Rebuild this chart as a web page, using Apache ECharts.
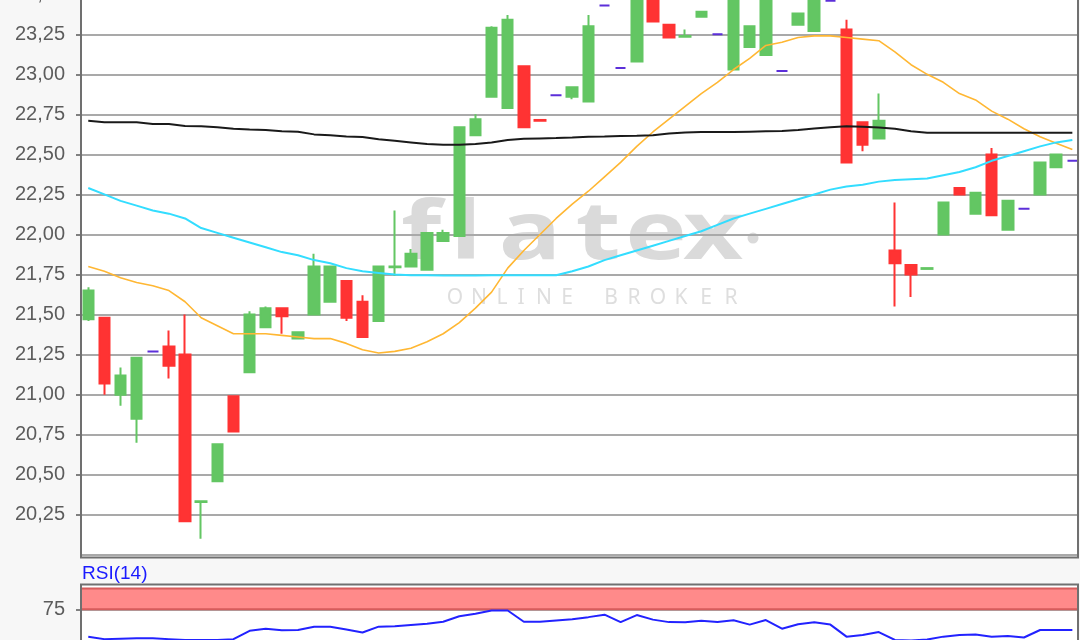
<!DOCTYPE html>
<html>
<head>
<meta charset="utf-8">
<script src="https://cdn.jsdelivr.net/npm/echarts@6/dist/echarts.min.js"></script>
<style>
html,body{margin:0;padding:0;background:#f7f7f7;}
#chart{width:1080px;height:640px;}
</style>
</head>
<body>
<div id="chart"></div>
<script>
// ---- data (62 sessions) ----
const candleOpen  = [21.47,21.48,21.00,20.85,21.27,21.30,21.25,20.33,20.46,20.99,21.14,21.42,21.54,21.35,21.50,21.58,21.71,21.58,21.46,21.795,21.80,21.78,21.96,21.99,22.62,22.86,22.79,23.05,22.715,22.87,22.86,22.83,23.43,23.04,23.08,23.52,23.31,23.235,23.36,23.25,23.03,23.17,23.12,23.02,23.31,23.27,23.46,23.28,22.70,22.60,21.90,21.81,21.785,22.00,22.29,22.13,22.50,22.03,22.16,22.25,22.42,22.46];
const candleClose = [21.65,21.07,21.12,21.23,21.27,21.18,20.21,20.335,20.69,20.77,21.50,21.54,21.49,21.39,21.80,21.80,21.48,21.36,21.80,21.80,21.88,22.01,22.01,22.67,22.72,23.29,23.34,22.67,22.71,22.87,22.92,23.30,23.43,23.04,23.56,23.33,23.23,23.24,23.39,23.25,23.55,23.30,23.52,23.02,23.38,23.50,23.46,22.45,22.56,22.71,21.82,21.75,21.79,22.20,22.25,22.26,22.12,22.21,22.16,22.45,22.50,22.46];
const candleLow   = [21.46,21.00,20.93,20.70,21.27,21.10,20.21,20.10,20.46,20.77,21.14,21.42,21.38,21.35,21.50,21.58,21.46,21.36,21.46,21.74,21.80,21.78,21.96,21.99,22.62,22.86,22.79,22.67,22.71,22.87,22.845,22.83,23.43,23.04,23.08,23.33,23.23,23.235,23.36,23.25,23.03,23.17,23.12,23.02,23.31,23.27,23.46,22.45,22.52,22.60,21.55,21.61,21.785,22.00,22.25,22.13,22.12,22.03,22.16,22.25,22.42,22.46];
const candleHigh  = [21.67,21.48,21.17,21.23,21.27,21.40,21.50,20.335,20.69,20.99,21.52,21.55,21.54,21.39,21.88,21.80,21.71,21.62,21.80,22.15,21.91,22.01,22.03,22.67,22.75,23.30,23.37,23.05,22.715,22.87,22.92,23.37,23.43,23.04,23.56,23.52,23.31,23.28,23.39,23.25,23.55,23.30,23.52,23.02,23.38,23.50,23.46,23.34,22.70,22.88,22.20,21.81,21.79,22.20,22.29,22.26,22.54,22.21,22.16,22.45,22.50,22.46];

const maOrange = [21.80,21.77,21.73,21.70,21.68,21.65,21.58,21.48,21.43,21.38,21.38,21.38,21.37,21.36,21.35,21.35,21.32,21.28,21.26,21.27,21.29,21.33,21.38,21.45,21.54,21.64,21.79,21.90,22.00,22.10,22.19,22.27,22.36,22.45,22.55,22.64,22.72,22.80,22.88,22.95,23.03,23.10,23.18,23.20,23.23,23.24,23.24,23.23,23.22,23.21,23.14,23.06,23.00,22.95,22.88,22.84,22.77,22.72,22.66,22.61,22.57,22.53];
const maCyan   = [22.29,22.25,22.21,22.18,22.15,22.13,22.10,22.04,22.01,21.98,21.95,21.92,21.89,21.87,21.84,21.82,21.79,21.77,21.76,21.75,21.745,21.745,21.744,21.744,21.744,21.745,21.745,21.745,21.745,21.745,21.77,21.80,21.84,21.87,21.90,21.93,21.96,21.99,22.02,22.06,22.10,22.13,22.16,22.19,22.22,22.25,22.28,22.30,22.31,22.33,22.34,22.345,22.35,22.37,22.39,22.42,22.46,22.49,22.52,22.55,22.575,22.59];
const maBlack  = [22.71,22.70,22.70,22.70,22.69,22.69,22.678,22.675,22.67,22.66,22.655,22.652,22.645,22.642,22.625,22.62,22.612,22.608,22.595,22.585,22.575,22.565,22.56,22.56,22.565,22.575,22.59,22.597,22.60,22.602,22.605,22.61,22.612,22.615,22.617,22.62,22.63,22.637,22.64,22.64,22.64,22.642,22.644,22.646,22.652,22.662,22.67,22.675,22.672,22.668,22.66,22.645,22.635,22.635,22.635,22.635,22.635,22.635,22.635,22.635,22.635,22.635];

const rsiValues = [42,39,39.5,40,40,39,38,38,38,39,49,51.5,49.6,50,54,54,50.5,47,54,54.5,56,57.5,60,66.5,69.5,73.5,73.5,60,60,61.5,63,65.5,68.5,59.5,68,62.5,59.5,59.3,61,59.7,61.7,56.5,62,51.6,57,59.3,56.5,42,44,47.5,38,37.5,38.5,42,44,44.5,42,42.7,41,50,50,50];

const priceRange = [20, 23.75];
const priceStep = [0.25];
const rsiRange = [0, 100];
const rsiLabels = [25, 75];
const rsiBand = [75, 100];
const rsiTitle = ['RSI(14)'];
const watermarkWord = ['f','l','a','t','e','x'];
const watermarkSub = ['O','N','L','I','N','E','B','R','O','K','E','R'];

// ---- build ----
const GREEN = '#63c663', RED = '#ff3333', DOJI = '#5c2fd9';
const n = candleOpen.length;
const xMin = -0.45, xMax = n - 1 + 0.35;
const idx = candleOpen.map((_, i) => i);
const candleData = idx.map(i => {
  const v = [i, candleOpen[i], candleClose[i], candleLow[i], candleHigh[i]];
  if (candleOpen[i] === candleClose[i]) {
    return {value: v, itemStyle: {color: DOJI, color0: DOJI, borderColor: DOJI, borderColor0: DOJI, borderColorDoji: DOJI}};
  }
  return v;
});
const pairs = arr => arr.map((v, i) => [i, v]);

const labelFont = {color: '#5c5c5c', fontSize: 20, fontFamily: '"Liberation Sans", Arial, sans-serif'};

// watermark layout (decoration only)
const wmX = [421, 466, 530, 598, 656, 713];
const subX = [455, 479, 502, 521, 544, 567, 611, 634, 658, 681, 706, 731];
const graphics = [
  {type: 'rect', z: -20, shape: {x: 81, y: 0, width: 997, height: 557}, style: {fill: '#ffffff'}},
  {type: 'rect', z: -20, shape: {x: 81, y: 585, width: 997, height: 60}, style: {fill: '#ffffff'}}
];
watermarkWord.forEach((ch, k) => graphics.push({
  type: 'text', z: -10, x: wmX[k], y: 236, scaleX: 1.3,
  style: {text: ch, fill: '#dadada', font: 'bold 80px "Noto Sans", sans-serif',
          textAlign: 'center', textVerticalAlign: 'middle', align: 'center', verticalAlign: 'middle'}
}));
graphics.push({type: 'circle', z: -10, shape: {cx: 753, cy: 238, r: 5.5}, style: {fill: '#dadada'}});
watermarkSub.forEach((ch, k) => graphics.push({
  type: 'text', z: -10, x: subX[k], y: 298,
  style: {text: ch, fill: '#dedede', font: '21px "Noto Sans", sans-serif',
          textAlign: 'center', textVerticalAlign: 'middle', align: 'center', verticalAlign: 'middle'}
}));
graphics.push(
  {type: 'polyline', z: 50, shape: {points: [[81, -5], [81, 557.5], [1078, 557.5], [1078, -5]]},
   style: {stroke: '#707070', lineWidth: 2, fill: 'none'}},
  {type: 'polyline', z: 50, shape: {points: [[81, 645], [81, 584.5], [1078, 584.5], [1078, 645]]},
   style: {stroke: '#707070', lineWidth: 2, fill: 'none'}},
  {type: 'text', z: 50, x: 82, y: 574,
   style: {text: rsiTitle[0], fill: '#1a1aff', font: '19px "Liberation Sans", Arial, sans-serif',
           textVerticalAlign: 'middle', verticalAlign: 'middle'}}
);

const chart = echarts.init(document.getElementById('chart'), null, {renderer: 'canvas'});
chart.setOption({
  backgroundColor: '#f7f7f7',
  animation: false,
  grid: [
    {left: 81, right: 2, top: -45.8, bottom: 85.2, outerBoundsMode: 'none', containLabel: false},
    {left: 81, right: 2, top: 588.5, height: 83, outerBoundsMode: 'none', containLabel: false}
  ],
  xAxis: [
    {type: 'value', gridIndex: 0, min: xMin, max: xMax, show: false},
    {type: 'value', gridIndex: 1, min: xMin, max: xMax, show: false}
  ],
  yAxis: [
    {type: 'value', gridIndex: 0, min: priceRange[0], max: priceRange[1], interval: priceStep[0],
     axisLine: {show: true, onZero: false, lineStyle: {color: '#707070', width: 2}},
     axisTick: {show: true, length: 5, lineStyle: {color: '#808080', width: 2}},
     axisLabel: Object.assign({margin: 16, showMinLabel: false,
       formatter: v => v.toFixed(2).replace('.', ',')}, labelFont),
     splitLine: {show: true, lineStyle: {color: '#a9a9a9', width: 2}}},
    {type: 'value', gridIndex: 1, min: rsiRange[0], max: rsiRange[1], interval: 25,
     axisLine: {show: true, onZero: false, lineStyle: {color: '#707070', width: 2}},
     axisTick: {show: true, length: 5, customValues: rsiLabels, lineStyle: {color: '#808080', width: 2}},
     axisLabel: Object.assign({margin: 16, customValues: rsiLabels,
       formatter: v => (rsiLabels.indexOf(v) >= 0 ? String(v) : '')}, labelFont),
     splitLine: {show: true, lineStyle: {color: '#a9a9a9', width: 2}}}
  ],
  graphic: graphics,
  series: [
    {type: 'candlestick', xAxisIndex: 0, yAxisIndex: 0, data: candleData, barWidth: 11, z: 3,
     itemStyle: {color: GREEN, color0: RED, borderColor: GREEN, borderColor0: RED, borderColorDoji: DOJI, borderWidth: 2}},
    {type: 'line', xAxisIndex: 0, yAxisIndex: 0, data: pairs(maOrange), showSymbol: false, z: 5,
     lineStyle: {color: '#ffb733', width: 1.6}},
    {type: 'line', xAxisIndex: 0, yAxisIndex: 0, data: pairs(maCyan), showSymbol: false, z: 5,
     lineStyle: {color: '#33ddff', width: 2}},
    {type: 'line', xAxisIndex: 0, yAxisIndex: 0, data: pairs(maBlack), showSymbol: false, z: 5,
     lineStyle: {color: '#1a1a1a', width: 2}},
    {type: 'line', xAxisIndex: 1, yAxisIndex: 1, data: pairs(rsiValues), showSymbol: false, z: 5,
     lineStyle: {color: '#2222ff', width: 2},
     markArea: {silent: true,
       itemStyle: {color: '#ff8a8a', borderColor: '#d65c5c', borderWidth: 2},
       data: [[{yAxis: rsiBand[0]}, {yAxis: rsiBand[1]}]]}}
  ]
});
</script>
</body>
</html>
